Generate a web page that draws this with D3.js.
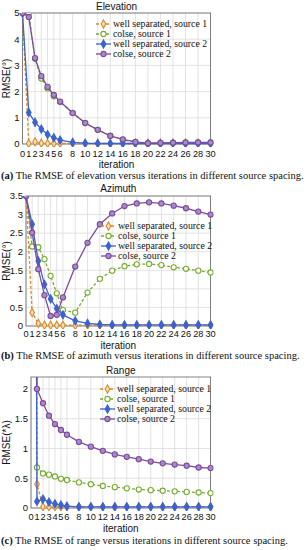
<!DOCTYPE html>
<html>
<head>
<meta charset="utf-8">
<script src="https://cdn.jsdelivr.net/npm/d3@7/dist/d3.min.js"></script>
<style>
body { margin: 0; background: #fff; }
</style>
</head>
<body>
<div class="container"></div>
<script>
// x positions shared by every panel (0..6 then every 2nd iteration)
var iterations = [0,1,2,3,4,5,6,8,10,12,14,16,18,20,22,24,26,28,30];
var seriesNames = ["well separated, source 1", "colse, source 1", "well separated, source 2", "colse, source 2"];

// (a) elevation
var elevWellS1  = [5,0.02,0.08,0.03,0.02,0.02,0.02,0.02,0.02,0.02,0.02,0.02,0.02,0.02,0.02,0.02,0.02,0.02,0.02];
var elevColseS1 = [5,5,3.25,2.5,2.12,1.82,1.6,1.19,0.81,0.54,0.32,0.16,0.07,0.02,0.03,0.04,0.05,0.05,0.05];
var elevWellS2  = [5,1.2,0.83,0.57,0.36,0.24,0.15,0.06,0.03,0.02,0.02,0.02,0.02,0.02,0.02,0.02,0.02,0.02,0.02];
var elevColseS2 = [5,4.85,3.28,2.59,2.18,1.87,1.62,1.18,0.8,0.54,0.31,0.18,0.08,0.03,0.04,0.05,0.06,0.06,0.06];

// (b) azimuth
var azWellS1  = [3.5,0.36,0.07,0.02,0.02,0.02,0.02,0.02,0.02,0.02,0.02,0.02,0.02,0.02,0.02,0.02,0.02,0.02,0.02];
var azColseS1 = [3.5,2.14,2.12,1.8,1.35,0.88,0.43,0.36,0.9,1.27,1.49,1.61,1.66,1.67,1.64,1.58,1.54,1.49,1.44];
var azWellS2  = [3.5,2.74,1.75,1.12,0.73,0.47,0.3,0.14,0.07,0.04,0.03,0.03,0.03,0.03,0.03,0.03,0.03,0.03,0.03];
var azColseS2 = [3.5,2.51,1.53,0.83,0.27,0.3,0.77,1.6,2.24,2.74,3.03,3.23,3.3,3.33,3.3,3.24,3.17,3.08,3.0];

// (c) range  (first value is far above the plotted range)
var rangeWellS1  = [30,0.4,0.02,0.02,0.02,0.02,0.02,0.02,0.02,0.02,0.02,0.02,0.02,0.02,0.02,0.02,0.02,0.02,0.02];
var rangeColseS1 = [30,0.68,0.58,0.56,0.53,0.49,0.47,0.43,0.4,0.37,0.35,0.33,0.31,0.3,0.29,0.28,0.27,0.26,0.25];
var rangeWellS2  = [30,0.11,0.15,0.1,0.07,0.05,0.03,0.02,0.02,0.02,0.02,0.02,0.02,0.02,0.02,0.02,0.02,0.02,0.02];
var rangeColseS2 = [30,2.0,1.76,1.55,1.41,1.31,1.23,1.11,1.03,0.96,0.9,0.86,0.82,0.78,0.75,0.73,0.71,0.68,0.67];

var elevTicks  = [0,1,2,3,4,5];
var azTicks    = [0,0.5,1,1.5,2,2.5,3,3.5];
var rangeTicks = [0,0.5,1,1.5,2];

// line styles per series
var styles = [
	{color:"#d98a2a", dash:"3,2", marker:"diamond", fill:"#f3dcb8"},
	{color:"#77ac30", dash:"3,2", marker:"circle",  fill:"#fff"},
	{color:"#3a62d0", dash:null,  marker:"diamond", fill:"#3a62d0"},
	{color:"#7e4a9e", dash:null,  marker:"circle",  fill:"#a58cc4"}
];

var panels = [
	{title:"Elevation", ylab:"RMSE(°)", tag:"(a)", cap:" The RMSE of elevation versus iterations in different source spacing.",
	 left:22.5, right:210.6, top:13, bottom:144, ymax:5, yticks:elevTicks,
	 series:[elevWellS1, elevColseS1, elevWellS2, elevColseS2],
	 titleY:10, tickY:156.5, xlabY:168, capY:179, legX:96, legY:24},
	{title:"Azimuth", ylab:"RMSE(°)", tag:"(b)", cap:" The RMSE of azimuth versus iterations in different source spacing.",
	 left:26, right:210.6, top:196, bottom:326, ymax:3.5, yticks:azTicks,
	 series:[azWellS1, azColseS1, azWellS2, azColseS2],
	 titleY:192, tickY:337, xlabY:349, capY:359, legX:101, legY:226},
	{title:"Range", ylab:"RMSE(*λ)", tag:"(c)", cap:" The RMSE of range versus iterations in different source spacing.",
	 left:31, right:210.6, top:377, bottom:508, ymax:2.2, yticks:rangeTicks,
	 series:[rangeWellS1, rangeColseS1, rangeWellS2, rangeColseS2],
	 titleY:374, tickY:520, xlabY:532, capY:544, legX:100, legY:389}
];

function makeStage(w,h) {
	return d3.select(".container")
		.append("svg")
		.attr("width",w)
		.attr("height",h);
}

function drawMarker(g, st, x, y) {
	if (st.marker=="circle") {
		g.append("circle").attr("cx",x).attr("cy",y).attr("r",2.6)
			.style("fill",st.fill).style("stroke",st.color).style("stroke-width","1.1");
	} else {
		g.append("path").attr("transform","translate("+x+","+y+")")
			.attr("d", d3.symbol().type(d3.symbolDiamond).size(19)())
			.style("fill",st.fill).style("stroke",st.color).style("stroke-width","1.1");
	}
}

function drawPanel(stage, p, idx) {
	var x = d3.scaleLinear().domain([0,30]).range([p.left,p.right]);
	var y = d3.scaleLinear().domain([0,p.ymax]).range([p.bottom,p.top]);
	var g = stage.append("g");

	// grid
	g.selectAll(".vg").data(iterations).enter().append("line")
		.attr("x1",function(d){return x(d);}).attr("x2",function(d){return x(d);})
		.attr("y1",p.top).attr("y2",p.bottom)
		.style("stroke","#dadada").style("stroke-width","0.8");
	g.selectAll(".hg").data(p.yticks).enter().append("line")
		.attr("x1",p.left).attr("x2",p.right)
		.attr("y1",function(d){return y(d);}).attr("y2",function(d){return y(d);})
		.style("stroke","#dadada").style("stroke-width","0.8");

	// box
	g.append("rect").attr("x",p.left).attr("y",p.top)
		.attr("width",p.right-p.left).attr("height",p.bottom-p.top)
		.style("fill","none").style("stroke","#666").style("stroke-width","0.8");

	// tick labels
	g.selectAll(".xt").data(iterations).enter().append("text")
		.attr("x",function(d){return x(d);}).attr("y",p.tickY)
		.attr("text-anchor","middle")
		.style("font-family","'Liberation Sans', Arial, sans-serif").style("font-size","9.2px").style("fill","#111")
		.text(function(d){return d;});
	g.selectAll(".yt").data(p.yticks).enter().append("text")
		.attr("x",p.left-3).attr("y",function(d){return y(d)+3.3;})
		.attr("text-anchor","end")
		.style("font-family","'Liberation Sans', Arial, sans-serif").style("font-size","9.5px").style("fill","#111")
		.text(function(d){return d;});

	// title / axis labels
	var mid = (p.left+p.right)/2;
	g.append("text").attr("x",mid).attr("y",p.titleY).attr("text-anchor","middle")
		.style("font-family","'Liberation Sans', Arial, sans-serif").style("font-size","10px").style("fill","#111")
		.text(p.title);
	g.append("text").attr("x",mid).attr("y",p.xlabY).attr("text-anchor","middle")
		.style("font-family","'Liberation Sans', Arial, sans-serif").style("font-size","10px").style("fill","#111")
		.text("iteration");
	g.append("text").attr("transform","translate(10,"+((p.top+p.bottom)/2)+") rotate(-90)")
		.attr("text-anchor","middle")
		.style("font-family","'Liberation Sans', Arial, sans-serif").style("font-size","10px").style("fill","#111")
		.text(p.ylab);

	// series, clipped to the axes
	var clipId = "clip"+idx;
	stage.append("clipPath").attr("id",clipId).append("rect")
		.attr("x",p.left-3).attr("y",p.top).attr("width",p.right-p.left+6).attr("height",p.bottom-p.top+3);
	var plot = g.append("g").attr("clip-path","url(#"+clipId+")");
	var line = d3.line()
		.x(function(d,i){return x(iterations[i]);})
		.y(function(d){return y(d);});
	p.series.forEach(function(vals, s) {
		var st = styles[s];
		plot.append("path").attr("d",line(vals))
			.style("fill","none").style("stroke",st.color).style("stroke-width","1.3")
			.style("stroke-dasharray",st.dash);
		vals.forEach(function(v,i) {
			if (v<=p.ymax) drawMarker(plot, st, x(iterations[i]), y(v));
		});
	});

	// legend
	var lg = g.append("g");
	seriesNames.forEach(function(name, s) {
		var st = styles[s];
		var ly = p.legY + s*10;
		lg.append("line").attr("x1",p.legX).attr("x2",p.legX+15).attr("y1",ly).attr("y2",ly)
			.style("stroke",st.color).style("stroke-width","1.3").style("stroke-dasharray",st.dash);
		drawMarker(lg, st, p.legX+7.5, ly);
		lg.append("text").attr("x",p.legX+17).attr("y",ly+3.3)
			.style("font-family","'Liberation Serif', 'Times New Roman', serif").style("font-size","9.8px").style("fill","#111")
			.text(name);
	});

	// caption
	var cap = stage.append("text").attr("x",1).attr("y",p.capY)
		.style("font-family","'Liberation Serif', 'Times New Roman', serif").style("font-size","10.5px").style("fill","#111");
	cap.append("tspan").style("font-weight","bold").text(p.tag);
	cap.append("tspan").text(p.cap);
}

var mystage = makeStage(308,550);
panels.forEach(function(p,i){ drawPanel(mystage, p, i); });
</script>
</body>
</html>
